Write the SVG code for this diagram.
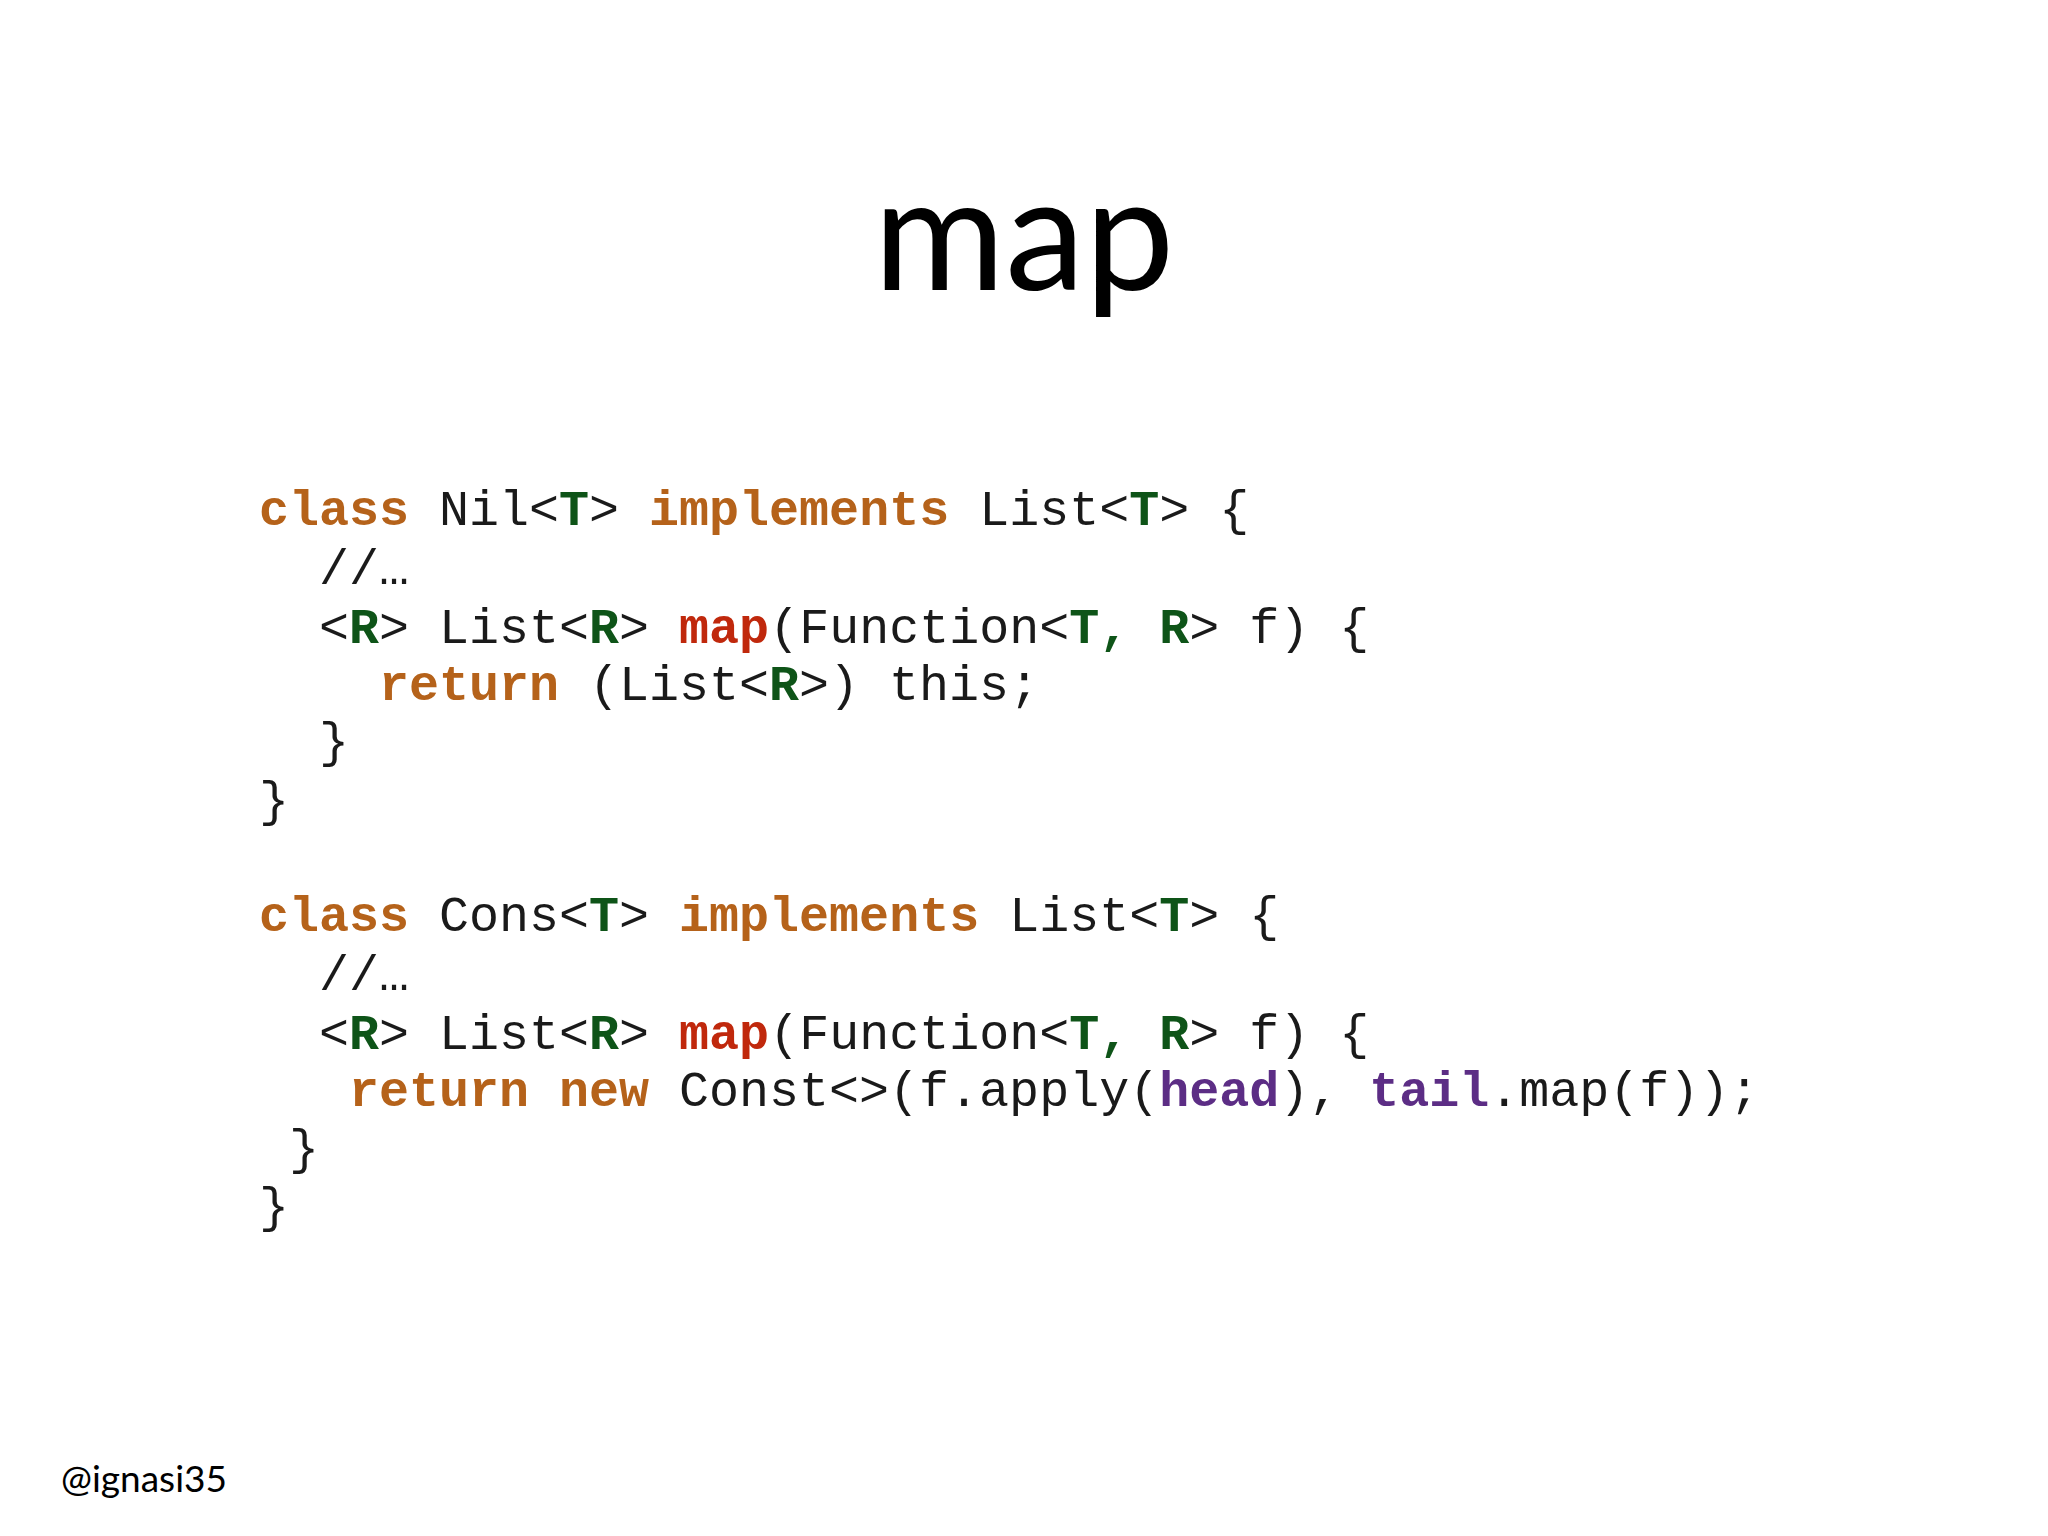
<svg xmlns="http://www.w3.org/2000/svg" width="2048" height="1536" viewBox="0 0 2048 1536">
<style>
.c{font-family:"Liberation Mono","Courier New",monospace;font-size:50px;fill:#1a1a1a;white-space:pre}
.k{fill:#b5621a;font-weight:bold}
.m{fill:#c0280c;font-weight:bold}
.g{fill:#0e5418;font-weight:bold}
.p{fill:#5c2d85;font-weight:bold}
</style>
<rect width="2048" height="1536" fill="#ffffff"/>
<text x="1024" y="290" text-anchor="middle" font-family="Lato, 'Open Sans', sans-serif" font-size="160" fill="#000">map</text>
<g id="nil" xml:space="preserve">
<text class="c" x="259" y="525"><tspan class="k">class</tspan> Nil&lt;<tspan class="g">T</tspan>&gt; <tspan class="k">implements</tspan> List&lt;<tspan class="g">T</tspan>&gt; {</text>
<text class="c" x="319" y="584">//…</text>
<text class="c" x="319" y="643">&lt;<tspan class="g">R</tspan>&gt; List&lt;<tspan class="g">R</tspan>&gt; <tspan class="m">map</tspan>(Function&lt;<tspan class="g">T, R</tspan>&gt; f) {</text>
<text class="c" x="379" y="700"><tspan class="k">return</tspan> (List&lt;<tspan class="g">R</tspan>&gt;) this;</text>
<text class="c" x="319" y="757">}</text>
<text class="c" x="259" y="816">}</text>
</g>
<g id="cons" xml:space="preserve">
<text class="c" x="259" y="931"><tspan class="k">class</tspan> Cons&lt;<tspan class="g">T</tspan>&gt; <tspan class="k">implements</tspan> List&lt;<tspan class="g">T</tspan>&gt; {</text>
<text class="c" x="319" y="990">//…</text>
<text class="c" x="319" y="1049">&lt;<tspan class="g">R</tspan>&gt; List&lt;<tspan class="g">R</tspan>&gt; <tspan class="m">map</tspan>(Function&lt;<tspan class="g">T, R</tspan>&gt; f) {</text>
<text class="c" x="349" y="1106"><tspan class="k">return new</tspan> Const&lt;&gt;(f.apply(<tspan class="p">head</tspan>), <tspan class="p">tail</tspan>.map(f));</text>
<text class="c" x="289" y="1164">}</text>
<text class="c" x="259" y="1222">}</text>
</g>
<text x="61" y="1492" font-family="Lato, 'Open Sans', sans-serif" font-size="37" fill="#000">@ignasi35</text>
</svg>
